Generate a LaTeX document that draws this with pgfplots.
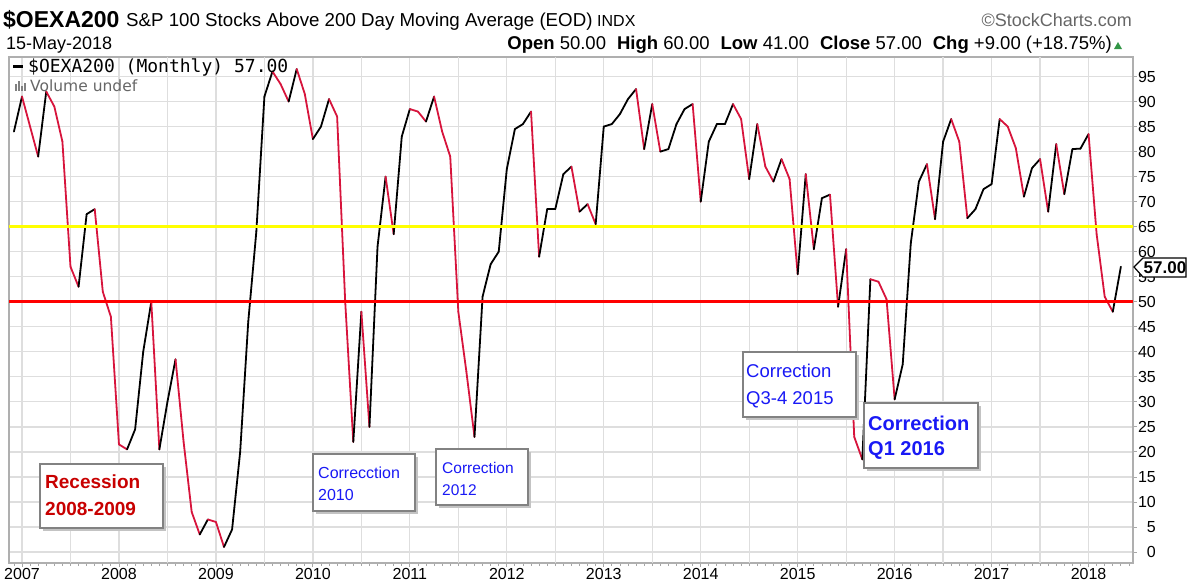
\documentclass[border=0pt]{standalone}
\usepackage{pgfplots}
\pgfplotsset{compat=1.18}
\usepackage{pgfplotstable}
\usepackage{fontspec}
\setmainfont{Liberation Sans}
\setmonofont{DejaVu Sans Mono}
\newfontfamily\dejavu{DejaVu Sans}
\definecolor{lineRed}{RGB}{215,20,60}
\definecolor{annBlue}{RGB}{25,25,245}
\definecolor{annRed}{RGB}{200,0,0}
\definecolor{refYellow}{RGB}{255,255,0}
\definecolor{refRed}{RGB}{255,0,0}
\definecolor{gridGray}{RGB}{222,222,222}
\definecolor{frameGray}{RGB}{175,175,175}
\definecolor{upGreen}{RGB}{50,150,70}
\definecolor{boxGray}{RGB}{130,130,130}
\definecolor{shadowGray}{RGB}{195,195,195}

% m = months since Jan 2007, v = value, c = 1 if the next value is lower (red segment)
\pgfplotstableread{
m v c
-1 84 0
0 91 1
1 85 1
2 79 0
3 92 1
4 89 1
5 82 1
6 57 1
7 53 0
8 67.5 0
9 68.5 1
10 52 1
11 47 1
12 21.5 1
13 20.5 0
14 24.5 0
15 40 0
16 50 1
17 20.5 0
18 30 0
19 38.5 1
20 22 1
21 8 1
22 3.5 0
23 6.5 1
24 6 1
25 1 0
26 4.5 0
27 20 0
28 46 0
29 64 0
30 91 0
31 96 1
32 93.5 1
33 90 0
34 96.5 1
35 91.5 1
36 82.5 0
37 85 0
38 90.5 1
39 87 1
40 50 1
41 22 0
42 48 1
43 25 0
44 61 0
45 75 1
46 63.5 0
47 83 0
48 88.5 1
49 88 1
50 86 0
51 91 1
52 84 1
53 79 1
54 48 1
55 36 1
56 23 0
57 51 0
58 57.5 0
59 60 0
60 76.5 0
61 84.5 0
62 85.5 0
63 88 1
64 59 0
65 68.5 0
66 68.5 0
67 75.5 0
68 77 1
69 68 0
70 69.5 1
71 65.5 0
72 85 0
73 85.5 0
74 87.5 0
75 90.5 0
76 92.5 1
77 80.5 0
78 89.5 1
79 80 0
80 80.5 0
81 85.5 0
82 88.5 0
83 89.5 1
84 70 0
85 82 0
86 85.5 0
87 85.5 0
88 89.5 1
89 86.5 1
90 74.5 0
91 85.5 1
92 77 1
93 74 0
94 78.5 1
95 74.5 1
96 55.5 0
97 75.5 1
98 60.5 0
99 70.7 0
100 71.4 1
101 49 0
102 60.5 1
103 23 1
104 18.5 0
105 54.5 1
106 54 1
107 50.5 1
108 30.5 0
109 37.5 0
110 61.7 0
111 74 0
112 77.5 1
113 66.5 0
114 82 0
115 86.5 1
116 82 1
117 66.7 0
118 68.5 0
119 72.5 0
120 73.5 0
121 86.5 1
122 85 1
123 80.7 1
124 71 0
125 76.7 0
126 78.5 1
127 68 0
128 81.5 1
129 71.5 0
130 80.5 0
131 80.6 0
132 83.5 1
133 63.5 1
134 51 1
135 48 0
136 57 0
}\oexa

\begin{document}
\begin{tikzpicture}[x=1pt,y=1pt]
\useasboundingbox (0,0) rectangle (1194,-584);
\begin{axis}[
  at={(9pt,-563pt)}, anchor=south west,
  scale only axis, width=1124pt, height=506pt,
  xmin=-1.61, xmax=137.5, ymin=-2.2, ymax=98.9,
  xtick={0,12,24,36,48,60,72,84,96,108,120,132},
  xticklabels={2007,2008,2009,2010,2011,2012,2013,2014,2015,2016,2017,2018},
  extra x ticks={6,18,30,42,54,66,78,90,102,114,126},
  extra x tick labels={},
  extra x tick style={grid=major, major tick length=0pt},
  minor xtick={-1,0,...,137},
  ytick={0,5,...,95},
  xtick pos=bottom, ytick pos=right, yticklabel pos=right,
  tick align=outside,
  major tick length=4pt, minor tick length=3pt,
  tick style={draw=gray!70, line width=0.8pt},
  xmajorgrids=true, ymajorgrids=true,
  major grid style={draw=gridGray, line width=1.3pt},
  axis line style={draw=frameGray, line width=1.3pt},
  ticklabel style={font=\fontsize{16}{16}\selectfont, text=black},
  /pgf/number format/assume math mode=true,
  yticklabel style={anchor=east, inner sep=0pt, xshift=19pt},
  xticklabel style={inner sep=0pt, yshift=-1.5pt},
]
\addplot[mesh, shader=flat corner, point meta=\thisrow{c},
  point meta min=0, point meta max=1,
  colormap={updown}{color=(black) color=(lineRed)},
  line width=1.8pt, line join=round, line cap=round]
  table[x=m, y=v] {\oexa};
\addplot[draw=refYellow, line width=3pt, forget plot] coordinates {(-2,65) (138,65)};
\addplot[draw=refRed, line width=3pt, forget plot] coordinates {(-2,50) (138,50)};
\end{axis}

% header
\node[anchor=base west, inner sep=0] at (3,-27) {\fontsize{23}{23}\selectfont\bfseries\$OEXA200};
\node[anchor=base west, inner sep=0] at (126,-26) {\fontsize{18.7}{19}\selectfont S\&P 100 Stocks Above 200 Day Moving Average (EOD)};
\node[anchor=base west, inner sep=0] at (597,-26) {\fontsize{16}{16}\selectfont INDX};
\node[anchor=base east, inner sep=0, text=black!60] at (1132,-26) {\fontsize{18}{18}\selectfont \textcopyright StockCharts.com};
\node[anchor=base west, inner sep=0] at (6,-49) {\fontsize{18}{18}\selectfont 15-May-2018};
\node[anchor=base east, inner sep=0] at (1112,-49) {\fontsize{18.5}{19}\selectfont \textbf{Open} 50.00\hspace{11pt}\textbf{High} 60.00\hspace{11pt}\textbf{Low} 41.00\hspace{11pt}\textbf{Close} 57.00\hspace{11pt}\textbf{Chg} +9.00 (+18.75\%)};
\fill[upGreen] (1114,-49) -- (1122,-49) -- (1118,-42) -- cycle;

% legend
\draw[line width=3pt] (13,-66) -- (23,-66);
\node[anchor=base west, inner sep=0] at (28,-72) {\fontsize{18}{18}\ttfamily \$OEXA200 (Monthly) 57.00};
\fill[gray] (15,-91) rectangle (17,-84);
\fill[gray] (18,-91) rectangle (20,-81);
\fill[gray] (21,-91) rectangle (23,-86);
\fill[gray] (24,-91) rectangle (26,-83);
\node[anchor=base west, inner sep=0, text=black!60] at (30,-91) {\fontsize{15.5}{16}\dejavu Volume undef};

% last value tag
\filldraw[fill=white, draw=black, line width=1.2pt] (1134,-267) -- (1143,-258) -- (1186,-258) -- (1186,-277) -- (1143,-277) -- cycle;
\node[inner sep=0] at (1165,-267.5) {\fontsize{17}{17}\selectfont\bfseries 57.00};

% annotation boxes
\newcommand{\annbox}[4]{%
  \fill[shadowGray] (#1+3,-#2-3) rectangle (#3+3,-#4-3);
  \filldraw[fill=white, draw=boxGray, line width=1.5pt] (#1,-#2) rectangle (#3,-#4);}
\annbox{40}{464}{163}{528}
\node[anchor=base west, inner sep=0, text=annRed] at (45,-488) {\fontsize{19}{19}\selectfont\bfseries Recession};
\node[anchor=base west, inner sep=0, text=annRed] at (45,-515) {\fontsize{19}{19}\selectfont\bfseries 2008-2009};
\annbox{313}{454}{415}{511}
\node[anchor=base west, inner sep=0, text=annBlue] at (318,-478) {\fontsize{16}{16}\selectfont Correcction};
\node[anchor=base west, inner sep=0, text=annBlue] at (318,-500) {\fontsize{16}{16}\selectfont 2010};
\annbox{436}{449}{528}{505}
\node[anchor=base west, inner sep=0, text=annBlue] at (442,-473) {\fontsize{15.5}{16}\selectfont Correction};
\node[anchor=base west, inner sep=0, text=annBlue] at (442,-495) {\fontsize{15.5}{16}\selectfont 2012};
\annbox{743}{352}{856}{417}
\node[anchor=base west, inner sep=0, text=annBlue] at (746,-377) {\fontsize{18.5}{19}\selectfont Correction};
\node[anchor=base west, inner sep=0, text=annBlue] at (746,-404) {\fontsize{18.5}{19}\selectfont Q3-4 2015};
\annbox{864}{403}{978}{468}
\node[anchor=base west, inner sep=0, text=annBlue] at (868,-430) {\fontsize{20}{20}\selectfont\bfseries Correction};
\node[anchor=base west, inner sep=0, text=annBlue] at (868,-455) {\fontsize{20}{20}\selectfont\bfseries Q1 2016};
\end{tikzpicture}
\end{document}
